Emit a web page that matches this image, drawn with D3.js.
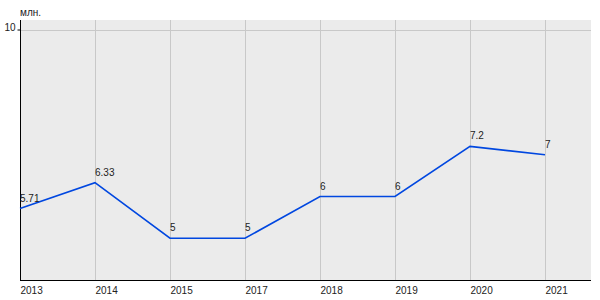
<!DOCTYPE html>
<html><head><meta charset="utf-8">
<script src="https://cdn.jsdelivr.net/npm/d3@7/dist/d3.min.js"></script>
<style>body{margin:0;background:#fff}svg{display:block}text{font-family:"Liberation Sans",Arial,sans-serif;font-size:10px;fill:#222}</style>
</head><body><svg id="c" width="600" height="300"></svg>
<script>
const categories = ["2013","2014","2015","2017","2018","2019","2020","2021"];
const values = [5.71, 6.33, 5, 5, 6, 6, 7.2, 7];
const yTicks = [10];
const unitLabel = "млн.";

const svg = d3.select("#c");
const L = 20, R = 591, T = 20, B = 280;
const x = d3.scalePoint().domain(categories).range([L, 545]);
const y = d3.scaleLinear().domain([4, 10]).range([B, 29.5]);

svg.append("rect").attr("x", L).attr("y", T).attr("width", R - L).attr("height", B - T).attr("fill", "#ebebeb");

svg.append("g").selectAll("line").data(categories).join("line")
  .attr("x1", d => x(d) + 0.5).attr("x2", d => x(d) + 0.5)
  .attr("y1", T).attr("y2", B).attr("stroke", "#c8c8c8").attr("stroke-width", 1);
svg.append("g").selectAll("line").data(yTicks).join("line")
  .attr("x1", L).attr("x2", R).attr("y1", d => Math.round(y(d)) + 0.5).attr("y2", d => Math.round(y(d)) + 0.5)
  .attr("stroke", "#c8c8c8");

const yAxis = svg.append("g").attr("transform", `translate(${L + 0.5},0)`)
  .call(d3.axisLeft(y).tickValues(yTicks).tickSize(3).tickFormat(d3.format("d")));
yAxis.select(".domain").attr("d", `M0,${T}V${B}`).attr("stroke", "#000");
yAxis.selectAll(".tick line").attr("stroke", "#000");
yAxis.selectAll(".tick text").attr("x", -5).attr("dy", "0.1em").style("font-size", "10px").attr("fill", "#222");

const xAxis = svg.append("g").attr("transform", `translate(0,${B + 0.5})`)
  .call(d3.axisBottom(x).tickSize(0));
xAxis.select(".domain").attr("d", `M${L},0H${R}`).attr("stroke", "#000");
xAxis.selectAll(".tick text").attr("text-anchor", "start").attr("y", 6).attr("dy", "0.71em").style("font-size", "10px").attr("fill", "#222");

svg.append("text").attr("x", L).attr("y", 16).text(unitLabel);

const line = d3.line().x((d, i) => x(categories[i])).y(d => y(d));
svg.append("path").datum(values).attr("d", line).attr("fill", "none")
  .attr("stroke", "#0047e0").attr("stroke-width", 1.6);

svg.append("g").selectAll("text").data(values).join("text")
  .attr("x", (d, i) => x(categories[i])).attr("y", d => y(d) - 7)
  .text(d => d);
</script></body></html>
